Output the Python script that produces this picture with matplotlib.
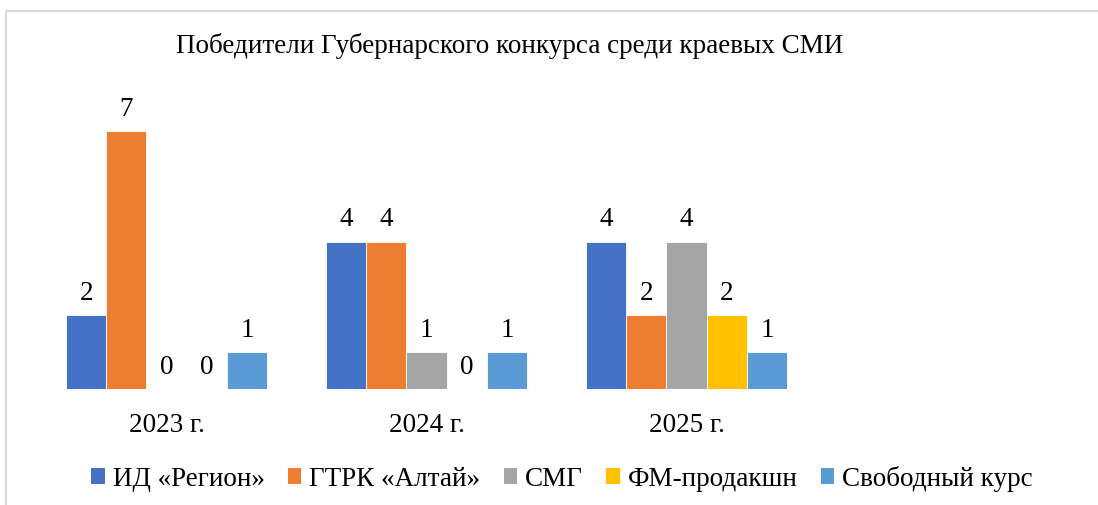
import matplotlib
matplotlib.use("Agg")
import matplotlib.pyplot as plt
from matplotlib.patches import Rectangle, Patch
import numpy as np

plt.rcParams['font.family'] = ['Liberation Serif', 'DejaVu Serif']

title = "Победители Губернарского конкурса среди краевых СМИ"
categories = ["2023 г.", "2024 г.", "2025 г."]
series_names = ["ИД «Регион»", "ГТРК «Алтай»", "СМГ", "ФМ-продакшн", "Свободный курс"]
id_region = [2, 4, 4]
gtrk_altai = [7, 4, 2]
smg = [0, 1, 4]
fm_prod = [0, 0, 2]
svob_kurs = [1, 1, 1]
series_values = [id_region, gtrk_altai, smg, fm_prod, svob_kurs]
colors = ["#4472C4", "#ED7D31", "#A5A5A5", "#FFC000", "#5B9BD5"]

FS = 19.5
W, H = 1098, 506
fig = plt.figure(figsize=(W / 100, H / 100), dpi=100)
fig.patch.set_facecolor("white")

# chart border (top and left visible)
fig.patches.append(Rectangle((6 / W, -0.05), 1.2, (1 - 12 / H) + 0.05,
                             transform=fig.transFigure, fill=False,
                             edgecolor="#D9D9D9", linewidth=1.5))

left, right = 36.5 / W, 1076.5 / W
bottom = (H - 390) / H
top = (H - 95.1) / H
ax = fig.add_axes([left, bottom, right - left, top - bottom])
ax.set_facecolor("none")

n = len(series_names)
bw = 40.2 / 260
x = np.arange(len(categories))
for i, (name, vals, c) in enumerate(zip(series_names, series_values, colors)):
    bars = ax.bar(x + (i - (n - 1) / 2) * bw, vals, width=bw, color=c,
                  edgecolor="white", linewidth=0.6, label=name)
    ax.bar_label(bars, labels=[str(v) for v in vals], padding=7.5,
                 fontsize=FS, color="#000000")

ax.set_xlim(-0.5, 3.5)
ax.set_ylim(0, 8)
ax.set_xticks(list(range(4)))
ax.set_xticklabels(categories + [""], fontsize=FS)
ax.tick_params(axis="x", length=0, pad=16.5)
ax.set_yticks([])
for s in ax.spines.values():
    s.set_visible(False)

fig.text(510 / W, 1 - 46 / H, title, ha="center", va="center", fontsize=FS)

handles = [Patch(facecolor=c, edgecolor="none") for c in colors]
fig.legend(handles, series_names, loc="center", bbox_to_anchor=(562 / W, 1 - 479.5 / H),
           ncol=5, frameon=False, fontsize=FS, handlelength=0.5, handleheight=0.5,
           handletextpad=0.3, columnspacing=0.85)

fig.savefig("out.png", dpi=100)
